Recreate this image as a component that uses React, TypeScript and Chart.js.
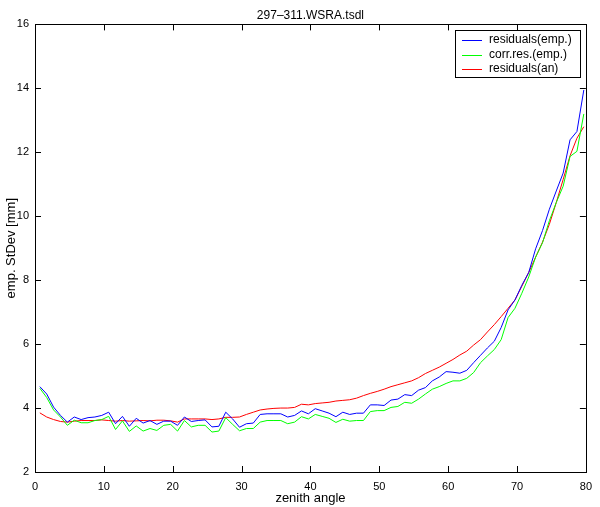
import { useEffect, useRef } from "react";
import { Chart, ChartConfiguration, Plugin, registerables } from "chart.js";

Chart.register(...registerables);

const zenith = [
	0.7, 1.7, 2.7, 3.7, 4.7, 5.7, 6.7, 7.7, 8.7, 9.7,
	10.7, 11.7, 12.7, 13.7, 14.7, 15.7, 16.7, 17.7, 18.7, 19.7,
	20.7, 21.7, 22.7, 23.7, 24.7, 25.7, 26.7, 27.7, 28.7, 29.7,
	30.7, 31.7, 32.7, 33.7, 34.7, 35.7, 36.7, 37.7, 38.7, 39.7,
	40.7, 41.7, 42.7, 43.7, 44.7, 45.7, 46.7, 47.7, 48.7, 49.7,
	50.7, 51.7, 52.7, 53.7, 54.7, 55.7, 56.7, 57.7, 58.7, 59.7,
	60.7, 61.7, 62.7, 63.7, 64.7, 65.7, 66.7, 67.7, 68.7, 69.7,
	70.7, 71.7, 72.7, 73.7, 74.7, 75.7, 76.7, 77.7, 78.7, 79.7,
];

const residualsEmp = [
	4.67, 4.44, 4.03, 3.77, 3.56, 3.72, 3.64, 3.7, 3.72, 3.77,
	3.87, 3.51, 3.74, 3.43, 3.68, 3.53, 3.61, 3.49, 3.59, 3.59,
	3.46, 3.72, 3.58, 3.61, 3.63, 3.41, 3.43, 3.87, 3.66, 3.4,
	3.51, 3.53, 3.8, 3.82, 3.82, 3.82, 3.72, 3.77, 3.91, 3.82,
	3.98, 3.91, 3.84, 3.73, 3.87, 3.8, 3.84, 3.84, 4.1, 4.1,
	4.08, 4.25, 4.28, 4.42, 4.39, 4.56, 4.64, 4.85, 4.97, 5.14,
	5.12, 5.09, 5.18, 5.42, 5.65, 5.88, 6.09, 6.52, 7.07, 7.38,
	7.84, 8.24, 8.98, 9.55, 10.22, 10.79, 11.35, 12.39, 12.65, 13.95,
];

const corrResEmp = [
	4.62, 4.33, 3.94, 3.72, 3.46, 3.62, 3.54, 3.54, 3.61, 3.64,
	3.74, 3.33, 3.6, 3.27, 3.44, 3.28, 3.36, 3.3, 3.46, 3.49,
	3.28, 3.61, 3.41, 3.46, 3.46, 3.25, 3.28, 3.7, 3.49, 3.29,
	3.36, 3.36, 3.56, 3.61, 3.61, 3.61, 3.51, 3.56, 3.73, 3.66,
	3.8, 3.74, 3.68, 3.55, 3.65, 3.59, 3.61, 3.61, 3.89, 3.92,
	3.92, 4.02, 4.05, 4.18, 4.15, 4.28, 4.44, 4.59, 4.67, 4.77,
	4.85, 4.85, 4.93, 5.11, 5.42, 5.63, 5.83, 6.14, 6.83, 7.12,
	7.59, 8.1, 8.72, 9.17, 9.86, 10.43, 10.94, 11.87, 12.03, 13.2,
];

const residualsAn = [
	3.85, 3.72, 3.64, 3.58, 3.56, 3.59, 3.61, 3.61, 3.61, 3.63,
	3.61, 3.59, 3.61, 3.59, 3.6, 3.61, 3.6, 3.62, 3.62, 3.6,
	3.56, 3.66, 3.66, 3.66, 3.66, 3.64, 3.66, 3.71, 3.71, 3.72,
	3.8, 3.87, 3.94, 3.97, 3.99, 4.0, 4.0, 4.02, 4.12, 4.1,
	4.14, 4.16, 4.18, 4.22, 4.24, 4.26, 4.31, 4.39, 4.46, 4.52,
	4.59, 4.67, 4.73, 4.79, 4.85, 4.95, 5.08, 5.18, 5.28, 5.4,
	5.52, 5.66, 5.78, 5.97, 6.14, 6.38, 6.61, 6.86, 7.12, 7.38,
	7.81, 8.24, 8.72, 9.19, 9.75, 10.43, 11.15, 11.89, 12.44, 12.8,
];

const seriesLabels = ["residuals(emp.)", "corr.res.(emp.)", "residuals(an)"];
const seriesColors = ["#0000ff", "#00ff00", "#ff0000"];

const FONT = "'Liberation Sans', Arial, Helvetica, sans-serif";

// box round the plot with inward ticks, like matlab
const boxPlugin: Plugin<"line"> = {
	id: "boxPlugin",
	afterDatasetsDraw(chart) {
		const { ctx, chartArea: a } = chart;
		const xs = chart.scales.x;
		const ys = chart.scales.y;
		const len = 6;
		ctx.save();
		ctx.strokeStyle = "#000";
		ctx.lineWidth = 1;
		ctx.beginPath();
		xs.ticks.forEach((t) => {
			const px = Math.round(xs.getPixelForValue(t.value)) + 0.5;
			ctx.moveTo(px, a.bottom);
			ctx.lineTo(px, a.bottom - len);
			ctx.moveTo(px, a.top);
			ctx.lineTo(px, a.top + len);
		});
		ys.ticks.forEach((t) => {
			const py = Math.round(ys.getPixelForValue(t.value)) + 0.5;
			ctx.moveTo(a.left, py);
			ctx.lineTo(a.left + len, py);
			ctx.moveTo(a.right, py);
			ctx.lineTo(a.right - len, py);
		});
		ctx.stroke();
		ctx.strokeRect(
			Math.round(a.left) + 0.5,
			Math.round(a.top) + 0.5,
			Math.round(a.right - a.left),
			Math.round(a.bottom - a.top)
		);
		ctx.restore();
	},
};

// legend box in the upper right corner of the plot
const legendPlugin: Plugin<"line"> = {
	id: "legendPlugin",
	afterDraw(chart) {
		const { ctx, chartArea: a } = chart;
		ctx.save();
		ctx.font = `12px ${FONT}`;
		const textW = Math.max(...seriesLabels.map((l) => ctx.measureText(l).width));
		const w = Math.round(34 + textW + 8);
		const h = 47;
		const right = Math.round(a.right) - 6;
		const left = right - w;
		const top = Math.round(a.top) + 6;
		ctx.fillStyle = "#fff";
		ctx.fillRect(left, top, w, h);
		ctx.strokeStyle = "#000";
		ctx.lineWidth = 1;
		ctx.strokeRect(left + 0.5, top + 0.5, w, h);
		ctx.textBaseline = "middle";
		seriesLabels.forEach((label, i) => {
			const y = top + 10 + i * 14.5;
			ctx.strokeStyle = seriesColors[i];
			ctx.beginPath();
			ctx.moveTo(left + 7, Math.round(y) + 0.5);
			ctx.lineTo(left + 27, Math.round(y) + 0.5);
			ctx.stroke();
			ctx.fillStyle = "#000";
			ctx.fillText(label, left + 34, y);
		});
		ctx.restore();
	},
};

const ResidualChart = () => {
	const chartRef = useRef<HTMLCanvasElement | null>(null);
	const myChartRef = useRef<Chart<"line"> | null>(null);

	useEffect(() => {
		if (!chartRef.current) return;
		Chart.defaults.font.family = FONT;

		const series = [residualsEmp, corrResEmp, residualsAn];

		const config: ChartConfiguration<"line"> = {
			type: "line",
			data: {
				datasets: series.map((vals, i) => ({
					label: seriesLabels[i],
					data: vals.map((v, j) => ({ x: zenith[j], y: v })),
					borderColor: seriesColors[i],
					backgroundColor: seriesColors[i],
					borderWidth: 1,
					pointRadius: 0,
					tension: 0,
					fill: false,
				})),
			},
			options: {
				responsive: false,
				animation: false,
				devicePixelRatio: 1,
				layout: {
					padding: { left: 0, right: 13, top: 0, bottom: 0 },
				},
				scales: {
					x: {
						type: "linear",
						min: 0,
						max: 80,
						afterFit: (scale) => {
							scale.height = 35;
						},
						border: { display: false },
						grid: { display: false, drawTicks: false },
						ticks: {
							stepSize: 10,
							color: "#000",
							padding: 8,
							font: { size: 11 },
							maxRotation: 0,
						},
						title: {
							display: true,
							text: "zenith angle",
							color: "#000",
							font: { size: 13 },
							padding: { top: 0, bottom: 1 },
						},
					},
					y: {
						type: "linear",
						min: 2,
						max: 16,
						afterFit: (scale) => {
							scale.width = 35;
						},
						border: { display: false },
						grid: { display: false, drawTicks: false },
						ticks: {
							stepSize: 2,
							color: "#000",
							padding: 6,
							font: { size: 11 },
						},
						title: {
							display: true,
							text: "emp. StDev [mm]",
							color: "#000",
							font: { size: 13 },
							padding: { top: 4, bottom: 0 },
						},
					},
				},
				plugins: {
					legend: { display: false },
					tooltip: { enabled: false },
					title: {
						display: true,
						text: "297\u2013311.WSRA.tsdl",
						color: "#000",
						fullSize: false,
						font: { size: 12, weight: "normal" },
						padding: { top: 8, bottom: 2 },
					},
				},
			},
			plugins: [boxPlugin, legendPlugin],
		};

		myChartRef.current = new Chart(chartRef.current, config);

		return () => {
			myChartRef.current?.destroy();
		};
	}, []);

	return <canvas ref={chartRef} width={600} height={507}></canvas>;
};

export default function App() {
	return (
		<div
			style={{
				position: "absolute",
				left: 0,
				top: 0,
				width: 600,
				height: 507,
				background: "#fff",
			}}
		>
			<ResidualChart />
		</div>
	);
}
